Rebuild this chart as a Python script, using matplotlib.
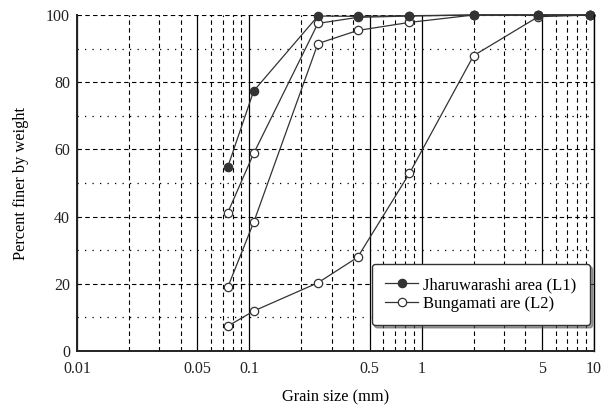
import matplotlib
matplotlib.use('Agg')
from matplotlib import pyplot as plt
from matplotlib.ticker import FixedLocator, NullFormatter, FuncFormatter

plt.rcParams['font.family'] = ['Liberation Serif', 'DejaVu Serif']

# Sieve sizes (mm)
grain_size = [0.075, 0.106, 0.25, 0.425, 0.85, 2.0, 4.75, 9.5]

# Jharuwarashi area (L1)
l1_finer = [54.8, 77.4, 99.7, 99.6, 99.8, 100.0, 100.0, 100.0]

# Bungamati samples (L2)
l2a_finer = [41.2, 58.8, 97.5, 99.3, 99.7, 100.0, 100.0, 100.0]
l2b_finer = [19.0, 38.3, 91.5, 95.4, 97.8, 100.0, 100.0, 100.0]
l2c_finer = [7.4, 11.9, 20.3, 27.9, 52.9, 87.9, 99.5, 100.0]

x_major = [0.01, 0.05, 0.1, 0.5, 1, 5, 10]
x_minor = [0.02, 0.03, 0.04, 0.06, 0.07, 0.08, 0.09,
           0.2, 0.3, 0.4, 0.6, 0.7, 0.8, 0.9,
           2, 3, 4, 6, 7, 8, 9]
y_major = [0, 20, 40, 60, 80, 100]
y_minor = [10, 30, 50, 70, 90]

fig = plt.figure(figsize=(6.13, 4.08), dpi=100)
ax = fig.add_axes([0.1256, 0.1397, 0.8434, 0.8235])

ax.set_xscale('log')
ax.set_xlim(0.01, 10)
ax.set_ylim(0, 100)

ax.xaxis.set_major_locator(FixedLocator(x_major))
ax.xaxis.set_minor_locator(FixedLocator(x_minor))
ax.xaxis.set_major_formatter(FuncFormatter(lambda v, p: f'{v:g}'))
ax.xaxis.set_minor_formatter(NullFormatter())
ax.yaxis.set_major_locator(FixedLocator(y_major))
ax.yaxis.set_minor_locator(FixedLocator(y_minor))

# Grid
ax.grid(True, axis='x', which='major', color='black', lw=0.9, ls='-')
ax.grid(True, axis='x', which='minor', color='black', lw=0.8, ls=(0, (4, 3)))
ax.grid(True, axis='y', which='major', color='black', lw=0.8, ls=(0, (4, 3)))
ax.grid(True, axis='y', which='minor', color='black', lw=0.9, ls=(0, (1, 5)))
ax.set_axisbelow(True)

ax.tick_params(axis='both', which='both', length=0, labelsize=11.5, colors='#222222')
ax.tick_params(axis='x', pad=7)
ax.tick_params(axis='y', pad=5)

ax.spines['top'].set_visible(False)
for side in ['left', 'bottom']:
    ax.spines[side].set_linewidth(1.4)
    ax.spines[side].set_color('#222222')
ax.spines['right'].set_linewidth(1.0)

line_kw = dict(color='#333333', lw=0.9, marker='o', markersize=6,
               markeredgecolor='#333333', markeredgewidth=0.9, clip_on=False)

ax.plot(grain_size, l2c_finer, markerfacecolor='white', label='Bungamati are (L2)', **line_kw)
ax.plot(grain_size, l2b_finer, markerfacecolor='white', **line_kw)
ax.plot(grain_size, l2a_finer, markerfacecolor='white', **line_kw)
ax.plot(grain_size, l1_finer, markerfacecolor='#333333', label='Jharuwarashi area (L1)', **line_kw)

handles, labels = ax.get_legend_handles_labels()
leg = ax.legend(handles[::-1], labels[::-1], loc='lower right',
                bbox_to_anchor=(0.992, 0.077), fontsize=12,
                frameon=True, fancybox=True, shadow=True,
                handlelength=2.0, handletextpad=0.3, borderpad=0.8,
                labelspacing=0.15, borderaxespad=0)
leg.get_frame().set_edgecolor('#333333')
leg.get_frame().set_linewidth(1.0)

ax.set_xlabel('Grain size (mm)', fontsize=11.8, labelpad=9)
ax.set_ylabel('Percent finer by weight', fontsize=11.8, labelpad=12)

fig.savefig('out.png', dpi=100)
